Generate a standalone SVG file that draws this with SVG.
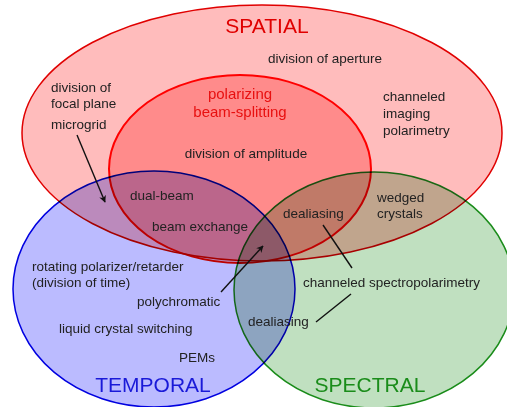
<svg xmlns="http://www.w3.org/2000/svg" width="507" height="407" viewBox="0 0 507 407">
<style>
.set{mix-blend-mode:multiply;fill:#ffbcbc}
.t{font-family:"Liberation Sans",Arial,sans-serif;font-size:13.5px;fill:#222}
.title{font-family:"Liberation Sans",Arial,sans-serif;font-size:21px}
.conn{stroke:#111;stroke-width:1.4;fill:none}
</style>
<defs>
<marker id="arr" viewBox="0 0 10 10" refX="9" refY="5" markerWidth="7" markerHeight="7" orient="auto" markerUnits="userSpaceOnUse">
<path d="M0,0 L10,5 L0,10 L3,5 Z" fill="#111"/>
</marker>
</defs>
<rect width="507" height="407" fill="#fff"/>
<g id="spatial">
<ellipse class="set" cx="262" cy="133" rx="240" ry="128" stroke="#e00000" stroke-width="1.5"/>
<text class="title" x="267" y="33" text-anchor="middle" fill="#e00000" font-size="20">SPATIAL</text>
</g>
<g id="temporal">
<ellipse class="set" cx="154" cy="289" rx="141" ry="118" style="fill:#bbbbff" stroke="#0000e0" stroke-width="1.5"/>
<text class="title" x="153" y="392" text-anchor="middle" fill="#1a1ad8">TEMPORAL</text>
</g>
<g id="spectral">
<ellipse class="set" cx="374" cy="290" rx="140" ry="118" style="fill:#c0e0c0" stroke="#1a8c1a" stroke-width="1.5"/>
<text class="title" x="370" y="392" text-anchor="middle" fill="#1a8c1a">SPECTRAL</text>
</g>
<g id="polarizing-beam-splitting">
<ellipse class="set" cx="240" cy="169" rx="131" ry="94" stroke="#ff0000" stroke-width="2"/>
<text x="240" y="99" text-anchor="middle" font-family="Liberation Sans,Arial,sans-serif" font-size="15" fill="#e81010">polarizing</text>
<text x="240" y="117" text-anchor="middle" font-family="Liberation Sans,Arial,sans-serif" font-size="15" fill="#e81010">beam-splitting</text>
</g>
<g id="labels">
<text class="t" x="268" y="63">division of aperture</text>
<text class="t" x="51" y="92">division of</text>
<text class="t" x="51" y="108">focal plane</text>
<text class="t" x="51" y="129">microgrid</text>
<text class="t" x="383" y="101">channeled</text>
<text class="t" x="383" y="118">imaging</text>
<text class="t" x="383" y="135">polarimetry</text>
<text class="t" x="246" y="158" text-anchor="middle">division of amplitude</text>
<text class="t" x="130" y="200">dual-beam</text>
<text class="t" x="152" y="231">beam exchange</text>
<text class="t" x="283" y="218">dealiasing</text>
<text class="t" x="377" y="202">wedged</text>
<text class="t" x="377" y="218">crystals</text>
<text class="t" x="32" y="271">rotating polarizer/retarder</text>
<text class="t" x="32" y="287">(division of time)</text>
<text class="t" x="137" y="306">polychromatic</text>
<text class="t" x="59" y="333">liquid crystal switching</text>
<text class="t" x="179" y="362">PEMs</text>
<text class="t" x="303" y="287">channeled spectropolarimetry</text>
<text class="t" x="248" y="326">dealiasing</text>
</g>
<g id="connectors">
<line class="conn" x1="77" y1="135" x2="105" y2="202" marker-end="url(#arr)"/>
<line class="conn" x1="221" y1="292" x2="263" y2="246" marker-end="url(#arr)"/>
<line class="conn" x1="323" y1="225" x2="352" y2="268"/>
<line class="conn" x1="351" y1="294" x2="316" y2="322"/>
</g>
</svg>
